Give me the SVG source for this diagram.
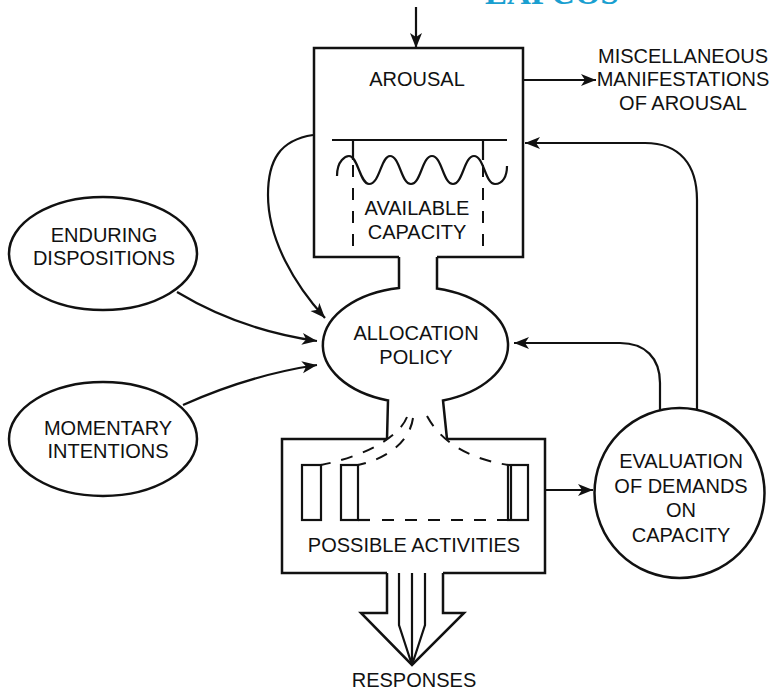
<svg xmlns="http://www.w3.org/2000/svg" width="772" height="691" viewBox="0 0 772 691">
<defs>
<style>
.t{font-family:"Liberation Sans",Arial,Helvetica,sans-serif;font-size:20px;fill:#111;text-anchor:middle}
.s{fill:none;stroke:#111;stroke-width:2.5;stroke-linejoin:miter}
.c{fill:none;stroke:#111;stroke-width:2.2}
.d{fill:none;stroke:#111;stroke-width:2;stroke-dasharray:12 11}
</style>
<marker id="ah" markerWidth="16" markerHeight="14" refX="15" refY="7" orient="auto" markerUnits="userSpaceOnUse">
<path d="M0,1 L15,7 L0,13 L4,7 z" fill="#111"/>
</marker>
</defs>
<rect width="772" height="691" fill="#fff"/>
<text x="552" y="4" font-family="Liberation Serif,Times New Roman,serif" font-weight="bold" font-size="33" fill="#1a9fd0" text-anchor="middle">EAPCOS</text>

<g id="arousal">
<path class="s" d="M399,257 H314 V48 H523 V257 H437"/>
<text class="t" x="417" y="86">AROUSAL</text>
<path class="c" d="M332,140 H507"/>
<path class="c" d="M353,140 V160 M483,140 V160"/>
<path class="d" d="M353,165 V247 M483,165 V247" stroke-dasharray="13 9"/>
<path class="c" d="M337,176 C337,160 346,156 349,156 C358,156 360,184 369,184 C380,184 381,156 390,156 C400,156 401,184 411,184 C421,184 422,156 432,156 C442,156 443,184 453,184 C463,184 464,156 474,156 C484,156 485,184 495,184 C503,184 507,176 507,166"/>
<text class="t" x="417" y="215">AVAILABLE</text>
<text class="t" x="417" y="239">CAPACITY</text>
</g>

<g id="allocation">
<path class="s" d="M399,257 V287.9 A92.5,58 0 0 0 388,400.4 L387,439"/>
<path class="s" d="M437,257 V288.6 A92.5,58 0 0 1 443,400.4 L447,439"/>
<text class="t" x="416" y="340">ALLOCATION</text>
<text class="t" x="416" y="364">POLICY</text>
</g>

<g id="activities">
<path class="s" d="M387,439 H282 V573 H387 M447,439 H545 V573 H443"/>
<rect class="c" x="302" y="465" width="19" height="55"/>
<rect class="c" x="341" y="465" width="17" height="55"/>
<rect class="c" x="508" y="465" width="20" height="55"/>
<path class="c" d="M511,465 V520"/>
<path class="c" d="M358,520 H370"/>
<path class="d" d="M382,520 H507"/>
<path class="d" d="M407,417 C400,435 370,455 321,465"/>
<path class="d" d="M413,418 C410,440 390,458 358,465"/>
<path class="d" d="M427,416 C440,440 465,458 508,465"/>
<text class="t" x="414" y="552">POSSIBLE ACTIVITIES</text>
</g>

<g id="responses">
<path class="s" d="M387,573 V613 H361 L412,665 L464,613 H443 V573"/>
<path class="c" d="M399,573 V625 L412,665 M412,573 V665 M425,573 V625 L412,665"/>
<text class="t" x="414" y="687">RESPONSES</text>
</g>

<g id="enduring">
<ellipse class="s" cx="103" cy="253.5" rx="94" ry="56.5"/>
<text class="t" x="104" y="242">ENDURING</text>
<text class="t" x="104" y="265">DISPOSITIONS</text>
</g>

<g id="momentary">
<ellipse class="s" cx="103" cy="439" rx="94" ry="57"/>
<text class="t" x="108" y="435">MOMENTARY</text>
<text class="t" x="108" y="458">INTENTIONS</text>
</g>

<g id="evaluation">
<circle class="s" cx="679.5" cy="493" r="85"/>
<text class="t" x="681" y="468">EVALUATION</text>
<text class="t" x="681" y="493">OF DEMANDS</text>
<text class="t" x="681" y="517">ON</text>
<text class="t" x="681" y="542">CAPACITY</text>
</g>

<g id="misc">
<text class="t" x="683" y="63">MISCELLANEOUS</text>
<text class="t" x="683" y="86">MANIFESTATIONS</text>
<text class="t" x="683" y="110">OF AROUSAL</text>
</g>

<g id="connectors">
<path class="c" d="M416,7 V48" marker-end="url(#ah)"/>
<path class="c" d="M523,80 H596" marker-end="url(#ah)"/>
<path class="c" d="M313,135 C280,140 268,160 268,195 C268,240 295,285 325,318" marker-end="url(#ah)"/>
<path class="c" d="M177,292 Q240,330 317,341" marker-end="url(#ah)"/>
<path class="c" d="M183,405 Q250,375 317,365" marker-end="url(#ah)"/>
<path class="c" d="M545,490 H593" marker-end="url(#ah)"/>
<path class="c" d="M697,409 V200 C697,165 680,143 645,143 H525" marker-end="url(#ah)"/>
<path class="c" d="M660,410 V383 C660,358 645,343 620,343 H514" marker-end="url(#ah)"/>
</g>
</svg>
